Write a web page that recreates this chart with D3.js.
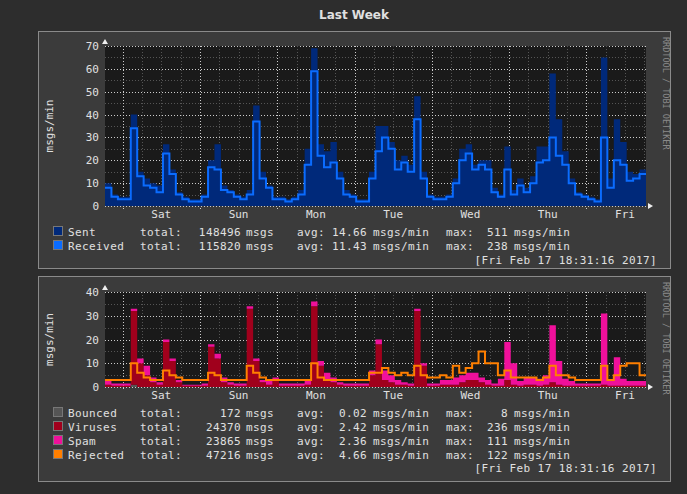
<!DOCTYPE html>
<html><head><meta charset="utf-8">
<script src="https://cdn.jsdelivr.net/npm/d3@7"></script>
<style>
body{margin:0;background:#2d2d2d;}
text{font-family:"DejaVu Sans Mono",monospace;fill:#e0e0e0;}
</style></head>
<body><svg id="c" width="687" height="494"></svg>
<script>
// two-hour samples, starting Fri Feb 10 18:31:16 2017
const sent = [10,5,4,4,40,15,12,10,9,27,16,6,4,3,3,5,20,27,9,7,5,4,7,44,15,9,4,4,3,4,7,25,69,27,24,28,15,7,5,3,
  3,15,35,35,28,20,22,18,48,15,5,4,4,5,12,25,27,18,20,20,8,5,26,7,12,8,13,26,26,58,38,24,12,6,5,4,3,65,12,38,28,15,14,16];
const received = [8,4,3,3,34,13,9,8,6,23,14,5,3,2,2,4,17,16,7,6,4,3,5,37,12,8,3,3,2,3,5,18,59,22,17,19,12,5,4,2,
  2,12,24,30,25,16,19,15,38,12,4,3,3,4,10,20,23,16,18,16,6,4,16,5,9,6,10,19,20,30,22,18,10,5,4,3,2,30,8,20,18,11,12,14];
const bounced = [0,0,0,0,1,0,0,0,0,0,0,0,0,0,0,0,0,0,0,0,0,0,0,0,0,0,0,0,0,0,0,0,0,0,0,0,0,0,0,0,
  0,0,0,0,0,0,0,0,0,0,0,0,0,0,0,0,0,0,0,0,0,0,0,0,0,0,0,0,0,0,0,0,0,0,0,0,0,0,0,0,0,0,0,0];
const viruses = [1,0.5,0.5,0.5,31,10,5,2,1,19,11,2,0.5,0.5,0.5,0.5,17,12,2,1,0.5,0.5,33,11,2,1,3,0.5,0.5,0.5,0.5,1,34,9,3,2,1,0.5,0.5,0.5,
  0.5,5,18,3,2,1,1,0.5,32,9,0.5,0.5,1,1,1,2,3,3,2,1,0.5,0.5,3,1,0.5,1,1,0.5,1,2,1,0.5,0.5,0.5,0.5,0.5,0.5,1,0.5,0.5,0.5,0.5,0.5,0.5];
const spam = [2,1,1,1,1,2,4,2,1,1,1,1,0.5,0.5,0.5,1,1,2,2,1,1,1,1,1,1,2,1,1,1,1,1,2,2,2,3,2,1,1,1,1,
  1,2,2,4,3,2,1,1,1,1,1,1,2,2,3,3,3,3,2,2,1,3,16,9,2,3,3,3,4,24,10,3,2,1,1,1,1,30,2,12,3,2,2,2];
const rejected = [3,3,3,3,10,6,4,3,3,7,5,4,3,3,3,3,6,5,3,3,3,3,9,6,4,3,3,3,3,3,3,3,10,4,3,3,3,3,3,3,
  3,6,6,8,6,5,6,5,9,5,4,4,5,4,9,6,8,10,15,10,10,5,7,4,4,4,4,3,4,9,5,5,4,3,3,3,3,9,3,5,9,10,10,5];
const dayLabels = ["Sat","Sun","Mon","Tue","Wed","Thu","Fri"];
const topLegend = [
  ["Sent","148496","14.66","511","#00297a"],
  ["Received","115820","11.43","238","#0a6cff"]];
const botLegend = [
  ["Bounced","172","0.02","8","#555555"],
  ["Viruses","24370","2.42","236","#a0001c"],
  ["Spam","23865","2.36","111","#f0109b"],
  ["Rejected","47216","4.66","122","#ff7f00"]];
const stamp = "[Fri Feb 17 18:31:16 2017]";

const svg = d3.select("#c");
const t0 = new Date(2017,1,10,18,31,16), t1 = new Date(2017,1,17,18,31,16);
const tAt = i => new Date(+t0 + i*2*3600e3);
const x = d3.scaleTime().domain([t0,t1]).range([105,646]);

svg.append("text").attr("x",354).attr("y",19).attr("text-anchor","middle")
  .style("font-family","DejaVu Sans").style("font-weight","bold").style("font-size","12px").text("Last Week");

function panel(y0,h,top,bottom,ymax,ystep){
  const g = svg.append("g");
  g.append("rect").attr("x",38.5).attr("y",y0+.5).attr("width",632).attr("height",h)
    .attr("fill","#3b3b3b").attr("stroke","#8a8a8a");
  const y = d3.scaleLinear().domain([0,ymax]).range([bottom,top]);
  g.append("rect").attr("x",105).attr("y",top).attr("width",541).attr("height",bottom-top).attr("fill","#1a1a1a");
  // minor grid
  d3.range(0,ymax+0.1,ystep/2).forEach(v=>{
    g.append("line").attr("x1",105).attr("x2",646).attr("y1",Math.round(y(v))+.5).attr("y2",Math.round(y(v))+.5)
      .attr("stroke",v%ystep?"#555":"#ccc").attr("stroke-dasharray","1,2");
  });
  x.ticks(d3.timeHour.every(6)).forEach(d=>{
    const major = d.getHours()===0;
    g.append("line").attr("x1",Math.round(x(d))+.5).attr("x2",Math.round(x(d))+.5).attr("y1",top).attr("y2",bottom+(major?4:2))
      .attr("stroke",major?"#ccc":"#555").attr("stroke-dasharray","1,2");
  });
  d3.range(0,ymax+0.1,ystep).forEach(v=>{
    g.append("text").attr("x",99).attr("y",y(v)+4).attr("text-anchor","end").style("font-size","11px").text(v);
  });
  x.ticks(d3.timeDay).forEach((d,i)=>{
    g.append("text").attr("x",x(new Date(+d+12*3600e3))).attr("y",bottom+12).attr("text-anchor","middle")
      .style("font-size","11px").text(dayLabels[i]);
  });
  g.append("text").attr("transform",`translate(53,${(top+bottom)/2}) rotate(-90)`).attr("text-anchor","middle")
    .style("font-size","11px").text("msgs/min");
  g.append("text").attr("transform",`translate(663,${y0+6}) rotate(90)`).style("font-size","8.5px")
    .style("fill","#8a8a8a").text("RRDTOOL / TOBI OETIKER");
  g.append("path").attr("d",`M102,${top-2}L108,${top-2}L105,${top-7}Z`).attr("fill","#eee");
  g.append("path").attr("d",`M648,${bottom-3}L648,${bottom+3}L653,${bottom}Z`).attr("fill","#eee");
  return {g,y};
}

function series(arr){ return arr.map((v,i)=>({t:tAt(i),v})).concat([{t:t1,v:arr[arr.length-1]}]); }

function legend(g,rows,y0){
  rows.forEach((r,i)=>{
    const yy = y0+i*14;
    g.append("rect").attr("x",53.5).attr("y",yy-9.5).attr("width",9).attr("height",9).attr("fill",r[4]).attr("stroke","#777");
    const t = (xx,s,a)=>g.append("text").attr("x",xx).attr("y",yy).attr("text-anchor",a||"start")
      .style("font-size","11px").style("letter-spacing","0.4px").text(s);
    t(68,r[0]); t(140,"total:"); t(241,r[1],"end"); t(246,"msgs"); t(297,"avg:");
    t(367,r[2],"end"); t(373,"msgs/min"); t(446,"max:"); t(508,r[3],"end"); t(514,"msgs/min");
  });
}

// top
const P1 = panel(31,237,46,206,70,10);
P1.g.append("path").datum(series(sent)).attr("fill","#00297a")
  .attr("d",d3.area().curve(d3.curveStepAfter).x(d=>x(d.t)).y0(P1.y(0)).y1(d=>P1.y(d.v)));
P1.g.append("path").datum(series(received)).attr("fill","none").attr("stroke","#0a6cff").attr("stroke-width",2)
  .attr("d",d3.line().curve(d3.curveStepAfter).x(d=>x(d.t)).y(d=>P1.y(d.v)));
legend(P1.g,topLegend,236);
P1.g.append("text").attr("x",657).attr("y",264).attr("text-anchor","end").style("font-size","11px")
  .style("letter-spacing","0.4px").text(stamp);

// bottom
const P2 = panel(276,205,292,387,40,10);
const keys = ["bounced","viruses","spam"];
const rows = bounced.map((b,i)=>({t:tAt(i),bounced:b,viruses:viruses[i],spam:spam[i]}));
rows.push({...rows[rows.length-1],t:t1});
const stacked = d3.stack().keys(keys)(rows);
const colors = {bounced:"#555555",viruses:"#a0001c",spam:"#f0109b"};
stacked.forEach(s=>{
  P2.g.append("path").datum(s).attr("fill",colors[s.key])
    .attr("d",d3.area().curve(d3.curveStepAfter).x(d=>x(d.data.t)).y0(d=>P2.y(d[0])).y1(d=>P2.y(d[1])));
});
P2.g.append("path").datum(series(rejected)).attr("fill","none").attr("stroke","#ff7f00").attr("stroke-width",2)
  .attr("d",d3.line().curve(d3.curveStepAfter).x(d=>x(d.t)).y(d=>P2.y(d.v)));
legend(P2.g,botLegend,417);
P2.g.append("text").attr("x",657).attr("y",472).attr("text-anchor","end").style("font-size","11px")
  .style("letter-spacing","0.4px").text(stamp);
</script></body></html>
